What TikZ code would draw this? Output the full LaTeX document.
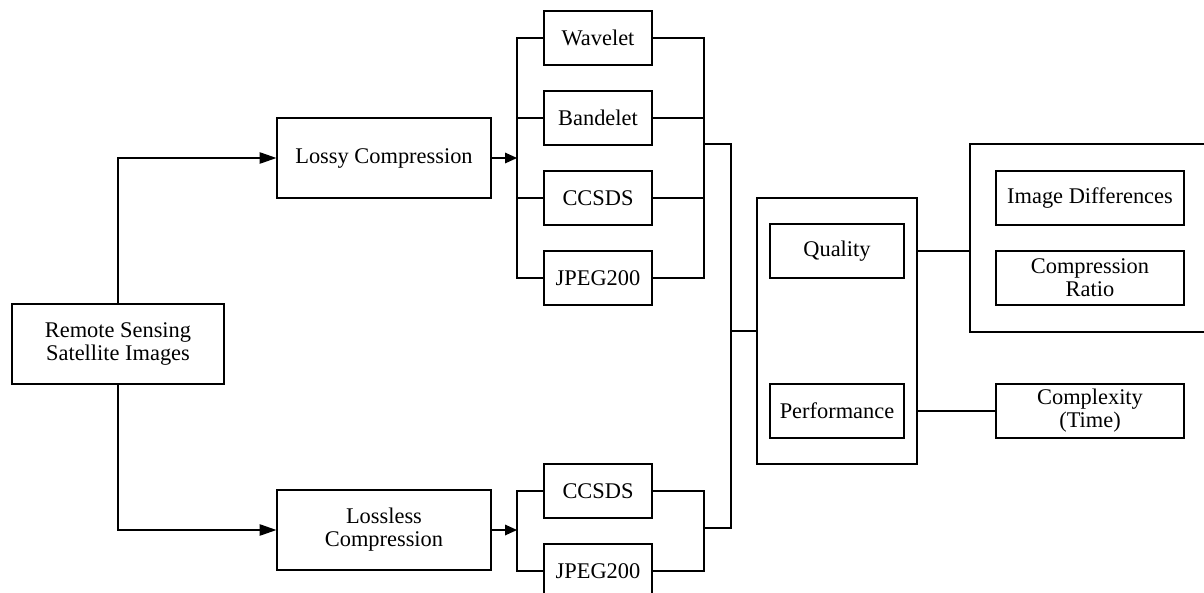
\documentclass[tikz,border=0pt]{standalone}
\usepackage{fontspec}
\setmainfont{Liberation Serif}
\usetikzlibrary{arrows.meta}
\tikzset{
  box/.style 2 args={draw=black, line width=0.9pt, inner sep=0pt, align=center,
    minimum width=#1*0.75pt, minimum height=#2*0.75pt,
    font=\fontsize{16.8}{17.2}\selectfont},
  wire/.style={draw=black, line width=0.9pt},
  bigarrow/.style={wire, -{Triangle[length=12.5pt,width=8.5pt]}},
  smallarrow/.style={wire, -{Triangle[length=9pt,width=8pt]}},
}
\begin{document}
\begin{tikzpicture}[x=0.75pt,y=-0.75pt]
\useasboundingbox (0,0) rectangle (1204,593);
\clip (0,0) rectangle (1204,593);
% nodes
\node[box={212}{80}] (rs) at (118,344) {Remote Sensing\\Satellite Images};
\node[box={214}{80}] (lossy) at (384,158) {Lossy Compression};
\node[box={214}{80}] (lossless) at (384,530) {Lossless\\Compression};
\node[box={108}{54}] (wav) at (598,38) {Wavelet};
\node[box={108}{54}] (ban) at (598,118) {Bandelet};
\node[box={108}{54}] (cc1) at (598,198) {CCSDS};
\node[box={108}{54}] (jp1) at (598,278) {JPEG200};
\node[box={108}{54}] (cc2) at (598,491) {CCSDS};
\node[box={108}{54}] (jp2) at (598,571) {JPEG200};
\node[box={160}{266}] (big) at (837,331) {};
\node[box={134}{54}] (q) at (837,251) {Quality};
\node[box={134}{54}] (perf) at (837,411) {Performance};
\node[box={244}{188}] (outer) at (1092,238) {};
\node[box={188}{54}] (imd) at (1090,198) {Image Differences};
\node[box={188}{54}] (cr) at (1090,278) {Compression\\Ratio};
\node[box={188}{54}] (cx) at (1090,411) {Complexity\\(Time)};
% bus coordinates
\coordinate (bl) at (517,0);
\coordinate (br) at (704,0);
\coordinate (bm) at (731,0);
\coordinate (o1) at (704,144);
\coordinate (o2) at (704,528);
% main arrows
\draw[bigarrow] (rs.north) |- (lossy.west);
\draw[bigarrow] (rs.south) |- (lossless.west);
\draw[smallarrow] (lossy.east) -- (lossy.east -| bl);
\draw[smallarrow] (lossless.east) -- (lossless.east -| bl);
% lossy buses
\draw[wire] (wav.west) -- (wav.west -| bl) -- (jp1.west -| bl) -- (jp1.west);
\draw[wire] (ban.west) -- (ban.west -| bl);
\draw[wire] (cc1.west) -- (cc1.west -| bl);
\draw[wire] (wav.east) -- (wav.east -| br) -- (jp1.east -| br) -- (jp1.east);
\draw[wire] (ban.east) -- (ban.east -| br);
\draw[wire] (cc1.east) -- (cc1.east -| br);
% lossless buses
\draw[wire] (cc2.west) -- (cc2.west -| bl) -- (jp2.west -| bl) -- (jp2.west);
\draw[wire] (cc2.east) -- (cc2.east -| br) -- (jp2.east -| br) -- (jp2.east);
% merge
\draw[wire] (o1) -- (o1 -| bm) -- (o2 -| bm) -- (o2);
\draw[wire] (big.west -| bm) -- (big.west);
% right side
\draw[wire] (q.east -| big.east) -- (q.east -| outer.west);
\draw[wire] (perf.east -| big.east) -- (cx.west);
\end{tikzpicture}
\end{document}
